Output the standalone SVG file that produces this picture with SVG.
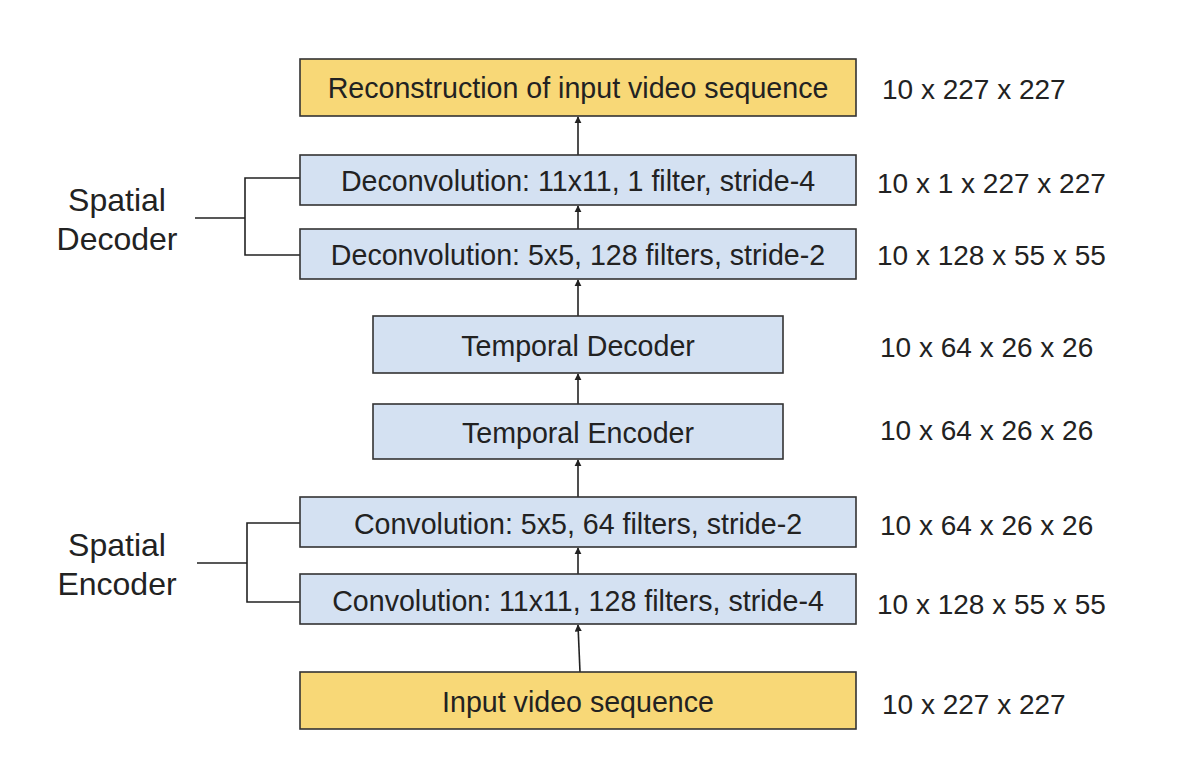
<svg xmlns="http://www.w3.org/2000/svg" width="1190" height="774" viewBox="0 0 1190 774">
<defs>
<style>
.yb{fill:#f8d877;stroke:#333;stroke-width:1.6}
.bb{fill:#d4e1f2;stroke:#333;stroke-width:1.6}
.t{font-family:"Liberation Sans",Arial,sans-serif;font-size:28.6px;fill:#222;text-anchor:middle}
.d{font-family:"Liberation Sans",Arial,sans-serif;font-size:28px;fill:#222}
.s{font-family:"Liberation Sans",Arial,sans-serif;font-size:32px;fill:#222;text-anchor:middle}
.c{fill:none;stroke:#222;stroke-width:1.6}
</style>
<marker id="ah" viewBox="0 0 10 10" refX="9" refY="5" markerWidth="4.5" markerHeight="4.5" orient="auto"><path d="M0,0 L10,5 L0,10 z" fill="#222"/></marker>
</defs>
<rect width="1190" height="774" fill="#fff"/>
<g id="connectors">
<line class="c" x1="578" y1="155" x2="578" y2="117" marker-end="url(#ah)"/>
<line class="c" x1="578" y1="229" x2="578" y2="206" marker-end="url(#ah)"/>
<line class="c" x1="578" y1="316" x2="578" y2="280" marker-end="url(#ah)"/>
<line class="c" x1="578" y1="404" x2="578" y2="374" marker-end="url(#ah)"/>
<line class="c" x1="578" y1="497" x2="578" y2="460" marker-end="url(#ah)"/>
<line class="c" x1="578" y1="574" x2="578" y2="548" marker-end="url(#ah)"/>
<line class="c" x1="580" y1="672" x2="578" y2="625" marker-end="url(#ah)"/>
<path class="c" d="M300,178 H245 V255 H300 M195,218 H245"/>
<path class="c" d="M300,523 H247 V602 H300 M197,563 H247"/>
</g>
<g id="recon"><rect class="yb" x="300" y="59" width="556" height="57"/><text class="t" x="578" y="98">Reconstruction of input video sequence</text></g>
<g id="deconv1"><rect class="bb" x="300" y="155" width="556" height="50"/><text class="t" x="578" y="191">Deconvolution: 11x11, 1 filter, stride-4</text></g>
<g id="deconv2"><rect class="bb" x="300" y="229" width="556" height="50"/><text class="t" x="578" y="265">Deconvolution: 5x5, 128 filters, stride-2</text></g>
<g id="tdec"><rect class="bb" x="373" y="316" width="410" height="57"/><text class="t" x="578" y="356">Temporal Decoder</text></g>
<g id="tenc"><rect class="bb" x="373" y="404" width="410" height="55"/><text class="t" x="578" y="443">Temporal Encoder</text></g>
<g id="conv1"><rect class="bb" x="300" y="497" width="556" height="50"/><text class="t" x="578" y="534">Convolution: 5x5, 64 filters, stride-2</text></g>
<g id="conv2"><rect class="bb" x="300" y="574" width="556" height="50"/><text class="t" x="578" y="611">Convolution: 11x11, 128 filters, stride-4</text></g>
<g id="input"><rect class="yb" x="300" y="672" width="556" height="57"/><text class="t" x="578" y="712">Input video sequence</text></g>
<g id="sdec"><text class="s" x="117" y="211">Spatial</text><text class="s" x="117" y="250">Decoder</text></g>
<g id="senc"><text class="s" x="117" y="556">Spatial</text><text class="s" x="117" y="595">Encoder</text></g>
<g id="dims">
<text class="d" x="882" y="99">10 x 227 x 227</text>
<text class="d" x="877" y="193">10 x 1 x 227 x 227</text>
<text class="d" x="877" y="265">10 x 128 x 55 x 55</text>
<text class="d" x="880" y="357">10 x 64 x 26 x 26</text>
<text class="d" x="880" y="440">10 x 64 x 26 x 26</text>
<text class="d" x="880" y="535">10 x 64 x 26 x 26</text>
<text class="d" x="877" y="614">10 x 128 x 55 x 55</text>
<text class="d" x="882" y="714">10 x 227 x 227</text>
</g>
</svg>
